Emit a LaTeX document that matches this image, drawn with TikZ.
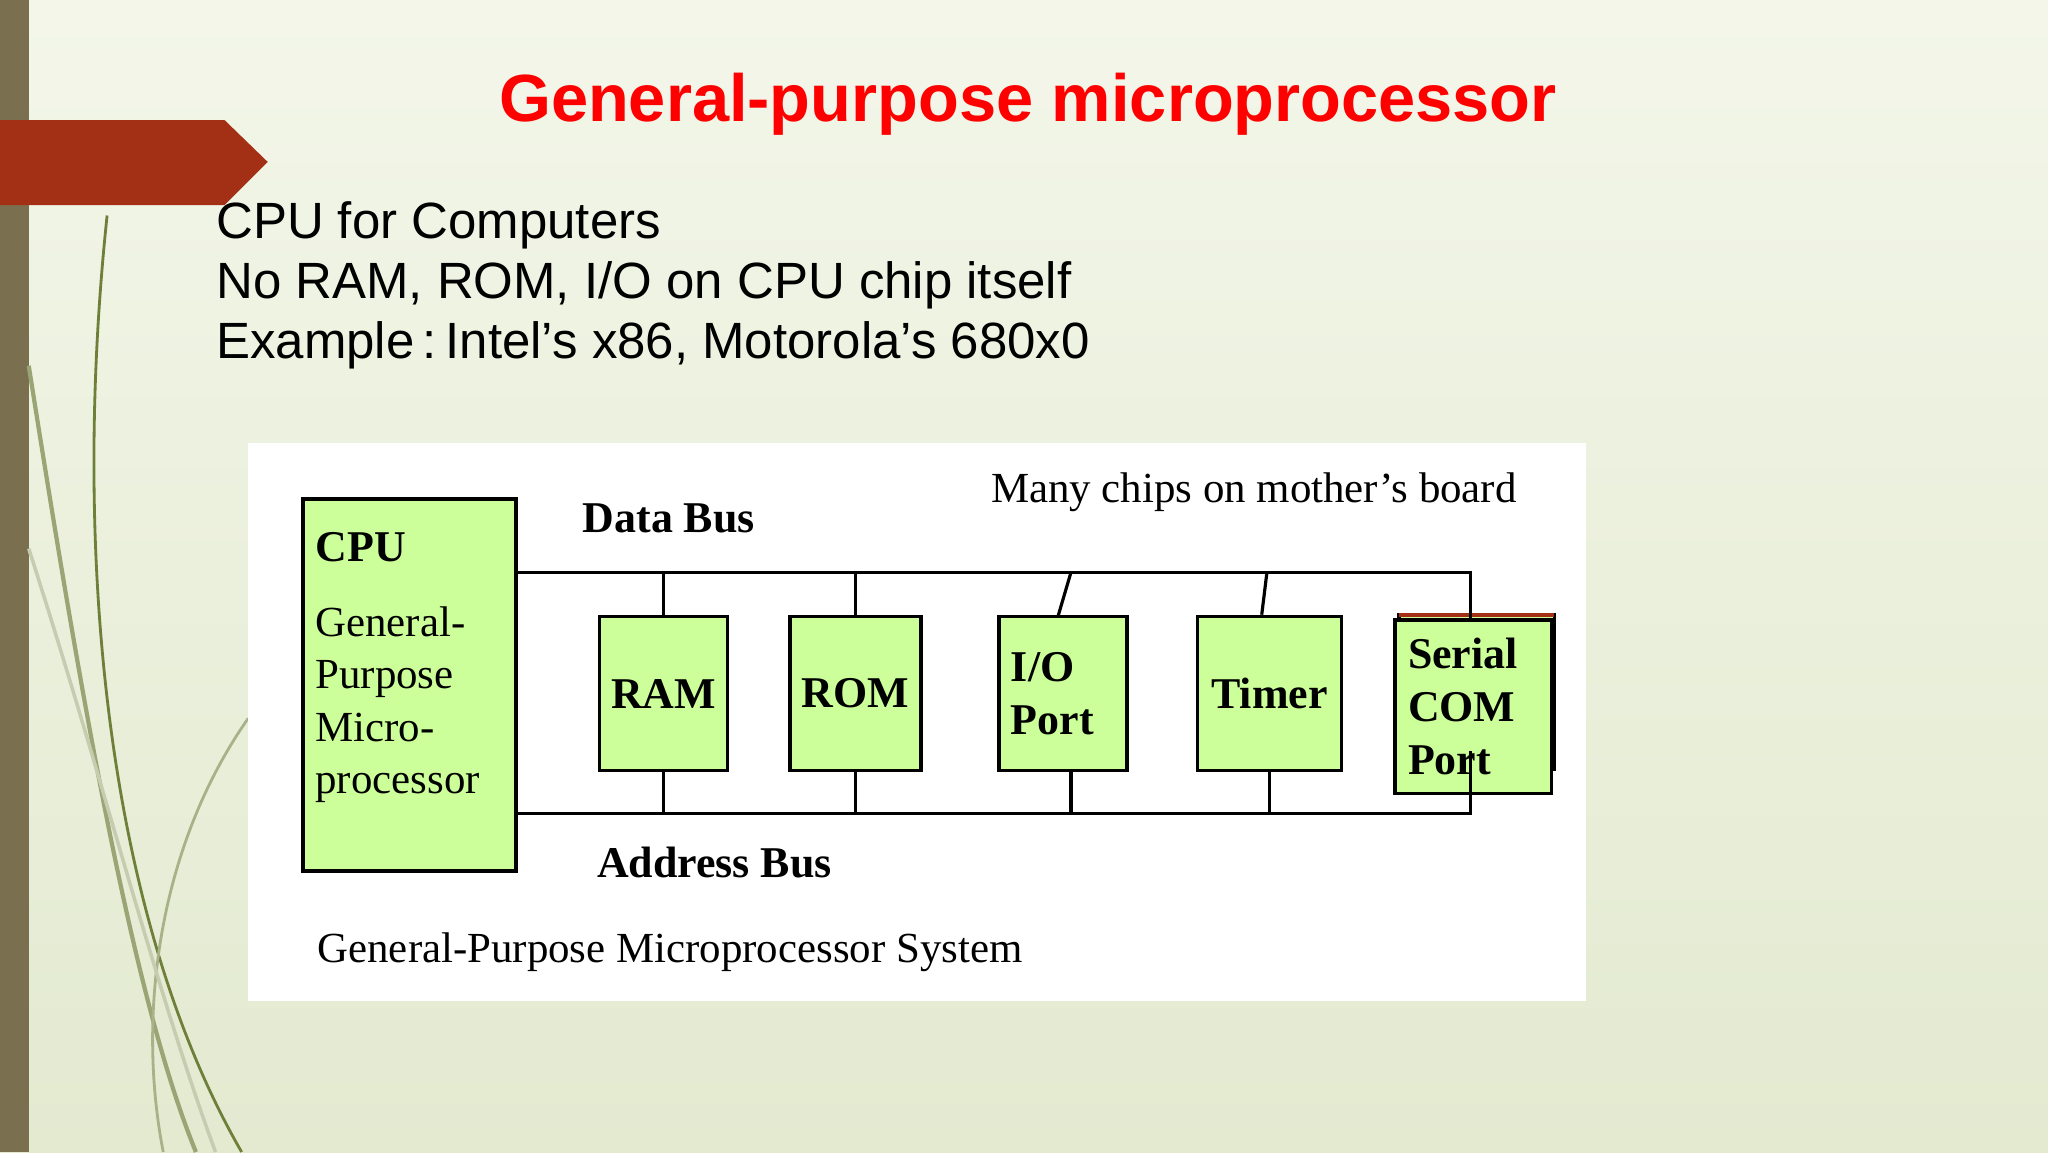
\documentclass[tikz,border=0pt]{standalone}
\usepackage{fontspec}
\setmainfont{Liberation Serif}
\newfontfamily\slidefont{Liberation Sans}
\usepackage{tikz}
\usetikzlibrary{calc}
\usetikzlibrary{backgrounds}
\definecolor{chipgreen}{HTML}{CCFF99}
\definecolor{titlered}{HTML}{FF0000}
\definecolor{bannerred}{HTML}{A33015}
\definecolor{sidebar}{HTML}{7A7050}
\definecolor{leafgreen}{HTML}{6E7F3A}
\definecolor{slidetop}{HTML}{F3F6E9}
\definecolor{slidebottom}{HTML}{E3EAD0}
\newdimen\pxu \pxu=0.1306mm

\begin{document}
\begin{tikzpicture}[x=0.1306mm,y=-0.1306mm,
    chip/.style={draw=black,line width=1pt,fill=chipgreen,font=\bfseries\fontsize{12.5}{15}\selectfont,align=left,inner sep=0pt},
    busline/.style={black,line width=0.9pt},
    label/.style={font=\fontsize{12.2}{14.9}\selectfont,inner sep=0pt}]
\useasboundingbox (0,0) rectangle (1568,882);
\shade[top color=slidetop,bottom color=slidebottom] (0,0) rectangle (1568,882);
\fill[sidebar] (0,0) rectangle (22,882);
% background leaves
\draw[leafgreen,line width=0.8pt] (82,165) .. controls (55,420) and (80,700) .. (185,882);
\draw[leafgreen!70,line width=1.2pt] (22,280) .. controls (60,520) and (100,760) .. (150,882);
\draw[leafgreen!60,line width=0.8pt] (190,550) .. controls (120,650) and (105,780) .. (125,882);
\draw[leafgreen!40,line width=1pt] (22,420) .. controls (80,600) and (120,760) .. (165,882);
\fill[bannerred] (0,92) -- (172,92) -- (205,124) -- (172,157) -- (0,157) -- cycle;
% title and bullets
\node[font=\slidefont\bfseries\fontsize{19}{23}\selectfont,text=titlered] (title) at (787,80) {General-purpose microprocessor};
\node[font=\slidefont\fontsize{14.5}{18}\selectfont,anchor=north west,align=left,inner sep=0pt] (points) at (165,154)
  {CPU for Computers\\[-1pt]No RAM, ROM, I/O on CPU chip itself\\[-1pt]Example\,:\,Intel’s x86, Motorola’s 680x0};
% diagram panel
\fill[white] (190,339) rectangle (1214,766);
\node[chip,minimum width=163\pxu,minimum height=285\pxu] (cpu) at (313.5,524.5) {};
\node[anchor=north west,font=\bfseries\fontsize{12.5}{15}\selectfont,inner sep=0pt] (cputitle) at (241,407) {CPU};
\node[anchor=north west,label,align=left] (cputext) at (241,464) {General-\\Purpose\\Micro-\\processor};
\node[chip,minimum width=98\pxu,minimum height=118\pxu,align=center] (ram) at (508,531) {RAM};
\node[chip,minimum width=100\pxu,minimum height=118\pxu,align=center] (rom) at (655,531) {ROM};
\node[chip,minimum width=98\pxu,minimum height=118\pxu,text width=80\pxu] (io) at (814,531) {I/O\\Port};
\node[chip,minimum width=110\pxu,minimum height=118\pxu,align=center] (timer) at (972,531) {Timer};
\draw[line width=1pt,fill=chipgreen] (1071,590) -- (1071,471) -- (1190,471) -- (1190,590);
\draw[bannerred,line width=1pt] (1071,471) -- (1190,471);
\node[chip,minimum width=120\pxu,minimum height=133\pxu,text width=100\pxu] (serial) at (1128,541) {Serial\\COM\\Port};
% buses
\coordinate (db0) at (395,438);
\coordinate (db1) at (1126,438);
\coordinate (ab0) at (395,623);
\coordinate (ab1) at (1126,623);
\coordinate (iodata) at (820,438);
\coordinate (timerdata) at (970,438);
\draw[busline] (db0) -- (db1) -- (serial.north -| db1);
\draw[busline] (ab0) -- (ab1) -- (1126,575);
\draw[busline] (ram.north) -- (ram.north |- db0);
\draw[busline] (ram.south) -- (ram.south |- ab0);
\draw[busline] (rom.north) -- (rom.north |- db0);
\draw[busline] (rom.south) -- (rom.south |- ab0);
\draw[busline] (810,472) -- (iodata);
\draw[busline] (820,590) -- (820,623);
\draw[busline] (timer.north -| 966,0) -- (timerdata);
\draw[busline] (timer.south) -- (timer.south |- ab0);
% labels
\node[font=\bfseries\fontsize{12.5}{15}\selectfont] (databus) at (512,397) {Data Bus};
\node[font=\bfseries\fontsize{12.5}{15}\selectfont] (addrbus) at (547,660) {Address Bus};
\node[label] (many) at (960,377) {Many chips on mother’s board};
\node[label] (caption) at (513,729) {General-Purpose Microprocessor System};
\end{tikzpicture}
\end{document}
